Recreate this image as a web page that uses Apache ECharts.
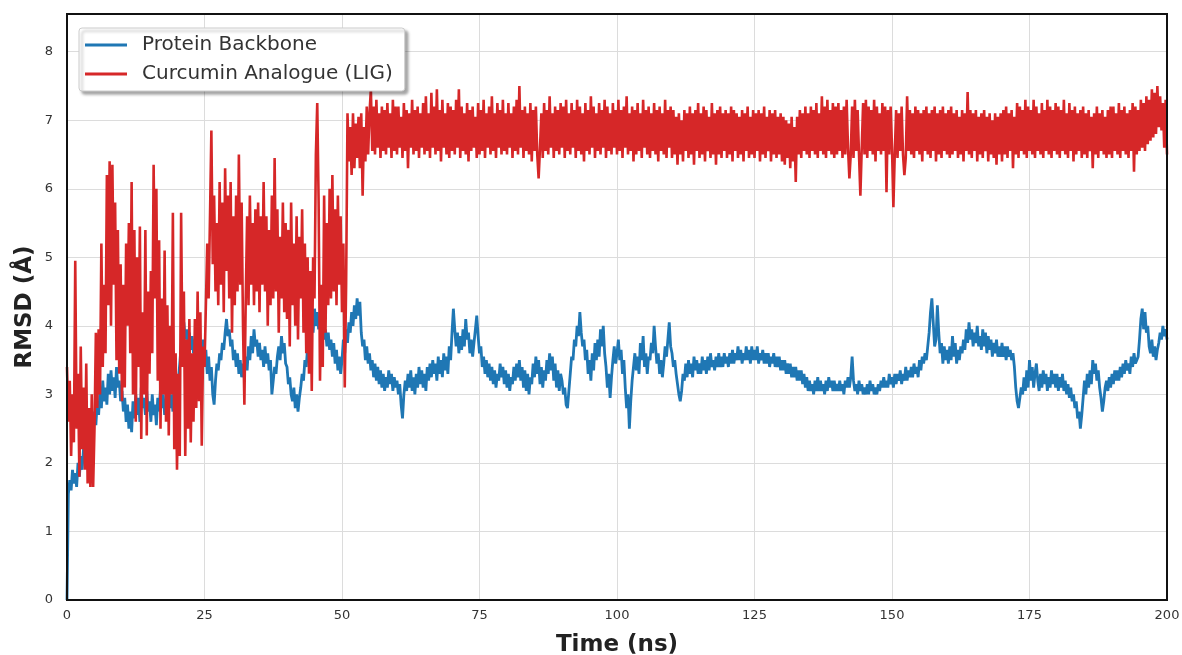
<!DOCTYPE html>
<html>
<head>
<meta charset="utf-8">
<script src="https://cdn.jsdelivr.net/npm/echarts@6/dist/echarts.min.js"></script>
<style>
  html, body { margin: 0; padding: 0; background: #fff; }
  #chart { width: 1182px; height: 655px; }
</style>
</head>
<body>
<div id="chart"></div>
<script>
// time axis: one frame every 0.25 ns, 0 .. 200 ns
const timeStep = 0.25;
const xTicks = [0, 25, 50, 75, 100, 125, 150, 175, 200];
const yTicks = [0, 1, 2, 3, 4, 5, 6, 7, 8];
const seriesNames = ['Protein Backbone', 'Curcumin Analogue (LIG)'];

// RMSD of protein backbone (Å), 10 ns per row
const backbone = [
  0.0,1.55,1.75,1.6,1.9,1.7,1.85,1.65,2.0,1.8,2.1,1.9,2.2,2.0,2.35,2.15,2.5,2.3,2.6,2.4,
  2.75,2.55,2.9,2.7,3.05,2.8,3.2,2.9,3.1,2.85,3.3,3.0,3.35,3.05,3.25,2.95,3.4,3.1,3.2,2.9,
  3.05,2.75,2.95,2.6,2.85,2.5,2.75,2.45,2.9,2.65,3.0,2.7,2.95,2.6,3.1,2.8,2.95,2.7,3.05,2.75,
  2.9,2.6,3.0,2.7,2.85,2.55,2.95,2.75,3.1,2.8,3.0,2.7,2.9,2.65,3.05,2.8,3.0,2.75,3.1,2.85,
  3.0,3.2,3.45,3.7,3.95,4.05,3.8,3.95,3.75,3.9,3.65,3.85,3.6,3.8,3.55,3.75,3.5,3.7,3.6,3.8,
  3.4,3.65,3.3,3.55,3.2,3.4,3.0,2.85,3.2,3.45,3.35,3.6,3.5,3.75,3.65,3.9,4.1,3.85,3.95,3.7,
  3.8,3.5,3.65,3.4,3.6,3.3,3.5,3.25,3.45,3.3,3.55,3.35,3.7,3.5,3.85,3.6,3.95,3.7,3.8,3.55,
  3.75,3.5,3.65,3.4,3.7,3.45,3.6,3.35,3.5,3.0,3.2,3.4,3.3,3.55,3.7,3.5,3.85,3.6,3.75,3.45,
  3.4,3.15,3.25,3.0,2.9,3.1,2.8,3.0,2.75,2.95,3.1,3.3,3.2,3.5,3.4,3.7,3.65,3.95,4.15,3.9,
  4.25,4.0,4.2,3.95,4.1,3.85,4.05,3.8,3.95,3.7,3.9,3.65,3.8,3.55,3.75,3.45,3.65,3.35,3.55,3.3,
  3.5,3.8,3.6,3.95,3.75,4.05,3.9,4.2,4.0,4.3,4.1,4.4,4.15,4.35,3.9,3.7,3.8,3.5,3.7,3.45,
  3.6,3.35,3.5,3.25,3.45,3.2,3.4,3.15,3.35,3.1,3.3,3.05,3.25,3.1,3.35,3.15,3.3,3.05,3.25,3.1,
  3.2,3.0,3.15,2.85,2.65,3.0,3.2,3.05,3.3,3.1,3.35,3.05,3.25,3.0,3.3,3.1,3.4,3.15,3.35,3.1,
  3.3,3.05,3.4,3.2,3.45,3.25,3.5,3.3,3.45,3.2,3.55,3.3,3.5,3.25,3.6,3.35,3.55,3.3,3.7,3.5,
  3.9,4.25,3.95,3.7,3.9,3.6,3.85,3.65,3.95,3.7,4.1,3.8,3.9,3.6,3.8,3.55,3.75,3.95,4.15,3.85,
  3.6,3.7,3.4,3.55,3.3,3.5,3.25,3.45,3.2,3.4,3.15,3.35,3.1,3.3,3.2,3.45,3.25,3.4,3.15,3.35,
  3.1,3.3,3.05,3.25,3.15,3.4,3.2,3.45,3.25,3.5,3.2,3.4,3.1,3.35,3.05,3.3,3.0,3.25,3.15,3.45,
  3.25,3.55,3.3,3.5,3.15,3.4,3.1,3.35,3.2,3.5,3.3,3.6,3.35,3.55,3.2,3.45,3.1,3.35,3.05,3.3,
  3.2,3.0,3.1,2.85,2.8,3.05,3.3,3.55,3.5,3.8,3.7,4.0,3.85,4.2,3.9,3.7,3.8,3.5,3.65,3.3,
  3.5,3.2,3.6,3.35,3.75,3.5,3.8,3.55,3.95,3.7,4.0,3.6,3.4,3.1,3.3,2.95,3.25,3.5,3.7,3.45,
  3.6,3.8,3.5,3.65,3.3,3.5,3.1,2.8,3.0,2.5,2.9,3.2,3.4,3.6,3.35,3.55,3.3,3.75,3.5,3.85,
  3.4,3.6,3.3,3.55,3.5,3.75,3.6,4.0,3.7,3.45,3.6,3.3,3.5,3.25,3.45,3.7,3.55,3.8,4.05,3.7,
  3.6,3.4,3.5,3.3,3.15,3.0,2.9,3.05,3.3,3.2,3.45,3.25,3.5,3.3,3.45,3.25,3.55,3.35,3.5,3.3,
  3.45,3.3,3.55,3.35,3.5,3.3,3.55,3.35,3.6,3.4,3.5,3.35,3.55,3.4,3.6,3.4,3.55,3.4,3.6,3.45,
  3.55,3.4,3.6,3.45,3.65,3.45,3.6,3.5,3.7,3.5,3.65,3.45,3.6,3.5,3.7,3.5,3.65,3.45,3.7,3.5,
  3.65,3.5,3.7,3.45,3.6,3.5,3.65,3.45,3.6,3.45,3.6,3.4,3.55,3.45,3.6,3.4,3.55,3.4,3.55,3.35,
  3.5,3.35,3.5,3.3,3.45,3.3,3.45,3.25,3.4,3.25,3.4,3.2,3.35,3.2,3.35,3.15,3.3,3.1,3.25,3.05,
  3.2,3.05,3.15,3.0,3.2,3.05,3.25,3.05,3.2,3.05,3.15,3.0,3.2,3.05,3.25,3.1,3.2,3.05,3.2,3.05,
  3.15,3.05,3.2,3.05,3.15,3.0,3.2,3.1,3.25,3.1,3.25,3.55,3.2,3.05,3.15,3.0,3.2,3.05,3.15,3.0,
  3.1,3.0,3.15,3.0,3.2,3.05,3.15,3.0,3.1,3.0,3.15,3.05,3.2,3.1,3.25,3.1,3.2,3.1,3.3,3.15,
  3.25,3.1,3.3,3.15,3.3,3.2,3.35,3.15,3.3,3.2,3.4,3.2,3.35,3.25,3.4,3.25,3.45,3.3,3.4,3.25,
  3.5,3.35,3.55,3.45,3.6,3.5,3.7,3.9,4.2,4.4,4.05,3.7,3.8,4.3,3.9,3.6,3.75,3.45,3.7,3.5,
  3.65,3.45,3.7,3.5,3.85,3.55,3.75,3.45,3.65,3.5,3.7,3.6,3.8,3.65,3.95,3.75,4.05,3.8,3.95,3.7,
  3.9,3.75,4.0,3.7,3.85,3.65,3.95,3.7,3.9,3.6,3.85,3.65,3.8,3.55,3.75,3.6,3.8,3.55,3.7,3.55,
  3.75,3.55,3.7,3.5,3.7,3.55,3.65,3.5,3.6,3.4,3.1,2.9,2.8,2.95,3.1,3.0,3.25,3.05,3.35,3.1,
  3.5,3.2,3.4,3.1,3.3,3.45,3.2,3.05,3.3,3.1,3.35,3.15,3.3,3.05,3.25,3.1,3.35,3.15,3.3,3.1,
  3.3,3.05,3.25,3.1,3.3,3.05,3.2,3.0,3.15,2.95,3.1,2.9,3.0,2.8,2.9,2.65,2.75,2.5,2.7,2.95,
  3.2,3.0,3.3,3.1,3.35,3.15,3.5,3.3,3.45,3.2,3.35,3.1,2.95,2.75,2.9,3.1,3.2,3.05,3.25,3.1,
  3.3,3.15,3.35,3.2,3.35,3.2,3.4,3.25,3.45,3.3,3.5,3.35,3.45,3.3,3.55,3.4,3.6,3.45,3.5,3.55,
  3.8,4.1,4.25,3.95,4.2,3.9,4.0,3.7,3.6,3.8,3.55,3.7,3.5,3.65,3.75,3.9,3.8,4.0,3.85,3.95,3.8
];

// RMSD of the ligand (Å), same time frames
const ligand = [
  3.4,2.6,3.2,2.1,3.0,2.3,4.95,2.5,3.3,1.8,3.7,2.2,3.1,1.9,3.45,1.7,2.8,1.65,3.0,1.65,
  2.5,3.9,2.8,3.95,3.0,5.2,3.4,4.6,3.6,6.2,4.3,6.4,4.0,6.35,4.6,5.8,3.5,5.4,3.3,4.9,
  2.9,4.6,3.1,5.2,4.0,5.5,3.6,6.1,3.0,5.4,2.6,5.0,3.4,5.45,2.35,4.2,3.0,5.4,2.4,4.5,
  3.3,4.8,3.6,6.35,4.4,6.0,3.2,5.25,2.5,4.4,3.0,5.1,2.6,4.3,2.4,4.0,3.0,5.65,2.2,3.6,
  1.9,3.3,2.1,5.65,3.4,4.5,2.1,3.8,2.5,4.1,2.3,3.6,2.6,4.1,2.8,4.5,2.9,4.2,2.25,3.7,
  3.4,4.3,5.2,4.4,5.6,6.85,4.9,5.9,4.5,5.5,4.3,6.1,4.6,5.8,4.2,6.3,4.8,5.9,4.4,6.1,
  3.9,5.6,4.3,5.9,4.5,6.5,4.6,5.8,4.0,2.85,4.4,5.6,4.3,5.9,4.6,5.5,4.3,5.7,4.5,5.8,
  4.2,5.6,4.6,6.1,4.5,5.6,4.0,5.4,4.3,5.9,4.4,6.45,4.5,5.7,3.9,5.3,4.4,5.8,4.2,5.5,
  4.1,5.4,3.7,5.8,4.3,5.2,4.0,5.6,3.8,5.3,4.4,5.7,3.9,5.2,3.6,5.0,3.3,4.8,3.05,5.0,
  4.4,6.5,7.25,5.8,3.2,4.6,3.4,5.9,3.9,5.5,4.3,6.0,4.4,6.2,4.5,5.7,4.3,5.9,4.6,5.6,
  4.2,5.2,3.1,4.6,7.1,6.4,6.9,6.2,7.1,6.3,6.95,6.45,7.05,6.3,7.1,5.9,6.9,6.4,7.2,6.5,
  7.1,7.45,6.55,7.2,6.5,7.3,6.6,7.1,6.45,7.2,6.55,7.15,6.5,7.25,6.6,7.1,6.45,7.3,6.55,7.2,
  6.5,7.2,6.6,7.05,6.45,7.25,6.55,7.15,6.3,7.1,6.6,7.3,6.5,7.15,6.55,7.2,6.45,7.1,6.6,7.25,
  6.5,7.35,6.55,7.1,6.45,7.4,6.6,7.2,6.5,7.45,6.55,7.15,6.4,7.3,6.6,7.1,6.5,7.25,6.45,7.2,
  6.55,7.15,6.5,7.3,6.6,7.45,6.45,7.2,6.55,7.1,6.5,7.25,6.4,7.15,6.55,7.2,6.6,7.05,6.45,7.25,
  6.5,7.15,6.55,7.3,6.45,7.1,6.6,7.2,6.5,7.35,6.55,7.1,6.45,7.25,6.6,7.15,6.5,7.3,6.55,7.1,
  6.5,7.25,6.6,7.1,6.45,7.2,6.55,7.3,6.5,7.5,6.6,7.15,6.45,7.2,6.55,7.1,6.5,7.25,6.4,7.15,
  6.55,7.2,6.5,6.15,6.6,7.1,6.45,7.25,6.55,7.15,6.5,7.35,6.6,7.1,6.45,7.2,6.55,7.15,6.5,7.25,
  6.6,7.2,6.45,7.3,6.55,7.1,6.5,7.25,6.6,7.15,6.45,7.3,6.55,7.2,6.5,7.1,6.4,7.25,6.55,7.15,
  6.5,7.35,6.6,7.2,6.45,7.1,6.55,7.25,6.5,7.15,6.6,7.3,6.45,7.2,6.55,7.1,6.5,7.25,6.6,7.15,
  6.5,7.3,6.55,7.15,6.45,7.2,6.6,7.35,6.5,7.1,6.55,7.2,6.4,7.15,6.5,7.25,6.55,7.1,6.45,7.3,
  6.6,7.15,6.5,7.2,6.45,7.1,6.55,7.25,6.5,7.15,6.4,7.2,6.55,7.1,6.5,7.3,6.45,7.15,6.6,7.2,
  6.45,7.15,6.5,7.05,6.35,7.1,6.5,7.0,6.4,7.15,6.55,7.1,6.45,7.2,6.5,7.1,6.35,7.15,6.55,7.25,
  6.45,7.1,6.5,7.2,6.4,7.15,6.55,7.05,6.45,7.25,6.5,7.1,6.35,7.15,6.5,7.2,6.45,7.1,6.55,7.15,
  6.45,7.1,6.5,7.2,6.4,7.15,6.55,7.1,6.45,7.05,6.5,7.15,6.4,7.1,6.55,7.2,6.45,7.05,6.5,7.15,
  6.45,7.1,6.55,7.15,6.4,7.1,6.5,7.2,6.45,7.05,6.55,7.15,6.4,7.1,6.5,7.15,6.45,7.05,6.5,7.1,
  6.4,7.05,6.35,7.0,6.45,6.95,6.3,7.05,6.4,6.9,6.1,7.05,6.5,7.15,6.45,7.1,6.55,7.2,6.5,7.1,
  6.45,7.2,6.55,7.15,6.5,7.25,6.45,7.1,6.55,7.35,6.5,7.2,6.45,7.3,6.55,7.15,6.5,7.25,6.45,7.2,
  6.5,7.25,6.55,7.15,6.45,7.2,6.5,7.3,6.6,6.15,6.5,7.2,6.45,7.3,6.55,7.15,6.5,5.9,6.6,7.25,
  6.5,7.3,6.45,7.2,6.55,7.15,6.5,7.3,6.4,7.2,6.55,7.1,6.5,7.25,6.55,7.2,5.95,7.15,6.5,7.2,
  6.6,5.73,6.5,7.15,6.45,7.1,6.55,7.2,6.5,6.2,6.45,7.35,6.55,7.15,6.5,7.1,6.45,7.2,6.55,7.15,
  6.5,7.1,6.4,7.15,6.55,7.2,6.5,7.1,6.45,7.15,6.55,7.2,6.4,7.1,6.5,7.15,6.45,7.2,6.55,7.1,
  6.5,7.15,6.45,7.2,6.5,7.1,6.55,7.15,6.45,7.05,6.5,7.15,6.4,7.1,6.55,7.41,6.5,7.15,6.45,7.1,
  6.55,7.15,6.4,7.05,6.5,7.1,6.45,7.15,6.55,7.05,6.4,7.1,6.5,7.0,6.45,7.1,6.35,7.05,6.5,7.1,
  6.4,7.15,6.5,7.2,6.45,7.1,6.55,7.15,6.3,7.05,6.5,7.25,6.45,7.2,6.55,7.15,6.5,7.3,6.45,7.2,
  6.55,7.15,6.5,7.3,6.45,7.2,6.55,7.1,6.5,7.25,6.45,7.15,6.55,7.3,6.5,7.2,6.45,7.15,6.55,7.25,
  6.5,7.2,6.45,7.15,6.55,7.3,6.5,7.1,6.45,7.25,6.55,7.15,6.4,7.2,6.5,7.1,6.55,7.15,6.45,7.2,
  6.5,7.1,6.45,7.15,6.55,7.05,6.3,7.1,6.5,7.2,6.45,7.1,6.55,7.15,6.5,7.05,6.45,7.15,6.5,7.2,
  6.45,7.2,6.55,7.1,6.5,7.25,6.45,7.15,6.55,7.2,6.5,7.1,6.45,7.15,6.55,7.25,6.25,7.2,6.5,7.15,
  6.55,7.3,6.6,7.25,6.55,7.35,6.65,7.3,6.7,7.45,6.75,7.4,6.8,7.5,6.9,7.35,6.85,7.25,6.6,7.3,6.5
];

function toPairs(list) {
  return list.map((v, i) => [i * timeStep, v]);
}

const chart = echarts.init(document.getElementById('chart'), null, {renderer: 'canvas'});
const font = 'DejaVu Sans';

const option = {
  animation: false,
  backgroundColor: '#fff',
  textStyle: { fontFamily: font },
  grid: {
    left: 67, right: 15, top: 14, bottom: 55,
    outerBoundsMode: 'none',
    containLabel: false,
    show: true,
    borderColor: '#111',
    borderWidth: 2,
    z: 3
  },
  legend: {
    orient: 'vertical',
    left: 79,
    top: 28,
    padding: [7, 12, 7, 6],
    itemGap: 9,
    itemWidth: 42,
    itemHeight: 3,
    icon: 'rect',
    backgroundColor: '#fff',
    borderColor: '#ccc',
    borderWidth: 1,
    borderRadius: 3,
    shadowColor: 'rgba(0,0,0,0.35)',
    shadowBlur: 3,
    shadowOffsetX: 3,
    shadowOffsetY: 3,
    textStyle: { fontFamily: font, fontSize: 20, color: '#333', padding: [0, 0, 0, 10] },
    data: seriesNames
  },
  xAxis: {
    type: 'value',
    min: xTicks[0],
    max: xTicks[xTicks.length - 1],
    interval: 25,
    name: 'Time (ns)',
    nameLocation: 'middle',
    nameGap: 34,
    nameMoveOverlap: false,
    nameTextStyle: { fontFamily: font, fontSize: 23, fontWeight: 'bold', color: '#222' },
    axisLine: { show: false },
    axisTick: { show: false },
    axisLabel: { color: '#333', fontSize: 13, margin: 9 },
    splitLine: { show: true, lineStyle: { color: '#dcdcdc', width: 1 } }
  },
  yAxis: {
    type: 'value',
    min: 0,
    max: 8.55,
    interval: 1,
    name: 'RMSD (Å)',
    nameLocation: 'middle',
    nameGap: 30,
    nameMoveOverlap: false,
    nameTextStyle: { fontFamily: font, fontSize: 23, fontWeight: 'bold', color: '#222' },
    axisLine: { show: false },
    axisTick: { show: false },
    axisLabel: {
      color: '#333', fontSize: 13, margin: 14,
      showMaxLabel: false,
      formatter: v => (yTicks.includes(v) ? String(v) : '')
    },
    splitLine: { show: true, lineStyle: { color: '#dcdcdc', width: 1 } }
  },
  series: [
    {
      name: seriesNames[0],
      type: 'line',
      data: toPairs(backbone),
      showSymbol: false,
      symbol: 'none',
      lineStyle: { color: '#1f77b4', width: 2.8 },
      itemStyle: { color: '#1f77b4' },
      z: 2
    },
    {
      name: seriesNames[1],
      type: 'line',
      data: toPairs(ligand),
      showSymbol: false,
      symbol: 'none',
      lineStyle: { color: '#d62728', width: 2.6 },
      itemStyle: { color: '#d62728' },
      z: 2
    }
  ]
};

chart.setOption(option);
</script>
</body>
</html>
